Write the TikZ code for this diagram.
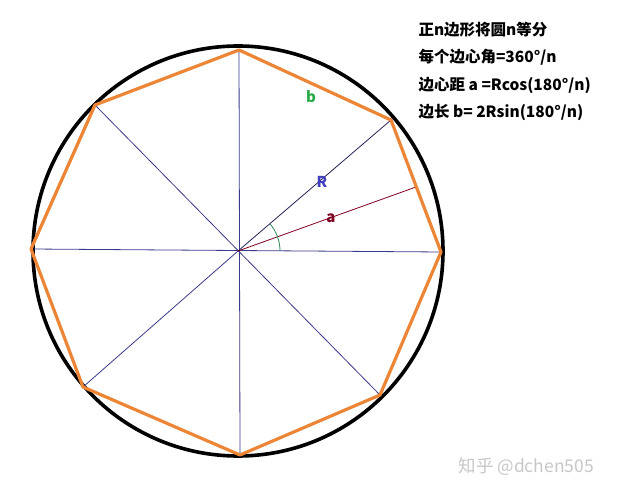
\documentclass[tikz,border=0pt]{standalone}
\usepackage{fontspec}
\setmainfont{Noto Sans CJK SC}
\usepackage{tikz}
\usetikzlibrary{positioning}
\definecolor{edgeorange}{RGB}{236,134,54}
\definecolor{spokeblue}{RGB}{58,58,140}
\definecolor{apotred}{RGB}{128,0,32}
\definecolor{anglegreen}{RGB}{46,139,87}
\definecolor{labelblue}{RGB}{64,64,192}
\definecolor{labelgreen}{RGB}{40,170,70}
\tikzset{
  spoke/.style={spokeblue, line width=0.8pt},
  edge/.style={edgeorange, line width=3.2pt, line join=round},
  info/.style={anchor=base west, font=\bfseries\fontsize{15.5}{17}\selectfont},
  lbl/.style={font=\bfseries\fontsize{15}{17}\selectfont}
}

\begin{document}
\begin{tikzpicture}[x=1pt, y=1pt]
\useasboundingbox (0,0) rectangle (617,492);
\coordinate (O) at (238,241);
\coordinate (T) at (239,442);
\coordinate (UR) at (391,372);
\coordinate (R) at (441,240);
\coordinate (LR) at (380,97);
\coordinate (B) at (240,37);
\coordinate (LL) at (83,105);
\coordinate (L) at (31,243);
\coordinate (UL) at (95,387);
\coordinate (M) at (416,305);
\draw[black, line width=3.6pt] (O) circle (205);
\draw[spoke] (T)--(B);
\draw[spoke] (L)--(R);
\draw[spoke] (UL)--(LR);
\draw[spoke] (LL)--(O);
\draw[spokeblue!60!black, line width=0.8pt] (O)--(UR);
\draw[apotred, line width=0.8pt] (O)--(M);
\draw[anglegreen, line width=0.8pt] ([shift={(0:42)}]O) arc[start angle=0, end angle=40.6, radius=42];
\draw[edge] (T)--(UR)--(R)--(LR)--(B)--(LL)--(L)--(UL)--cycle;
\node[lbl, text=labelgreen] (b) at (311,395) {b};
\node[lbl, text=labelblue] (Rl) at (322,310) {R};
\node[lbl, text=apotred] (al) at (331,274) {a};
\node[info] (t1) at (415,456) {正n边形将圆n等分};
\node[info] (t2) at (415,429) {每个边心角=360°/n};
\node[info] (t3) at (415,401) {边心距 a =Rcos(180°/n)};
\node[info] (t4) at (415,374) {边长 b= 2Rsin(180°/n)};
\node[anchor=base west, text=black!22, font=\fontsize{17.5}{19}\selectfont] (wm) at (455,20) {知乎 @dchen505};
\end{tikzpicture}
\end{document}
